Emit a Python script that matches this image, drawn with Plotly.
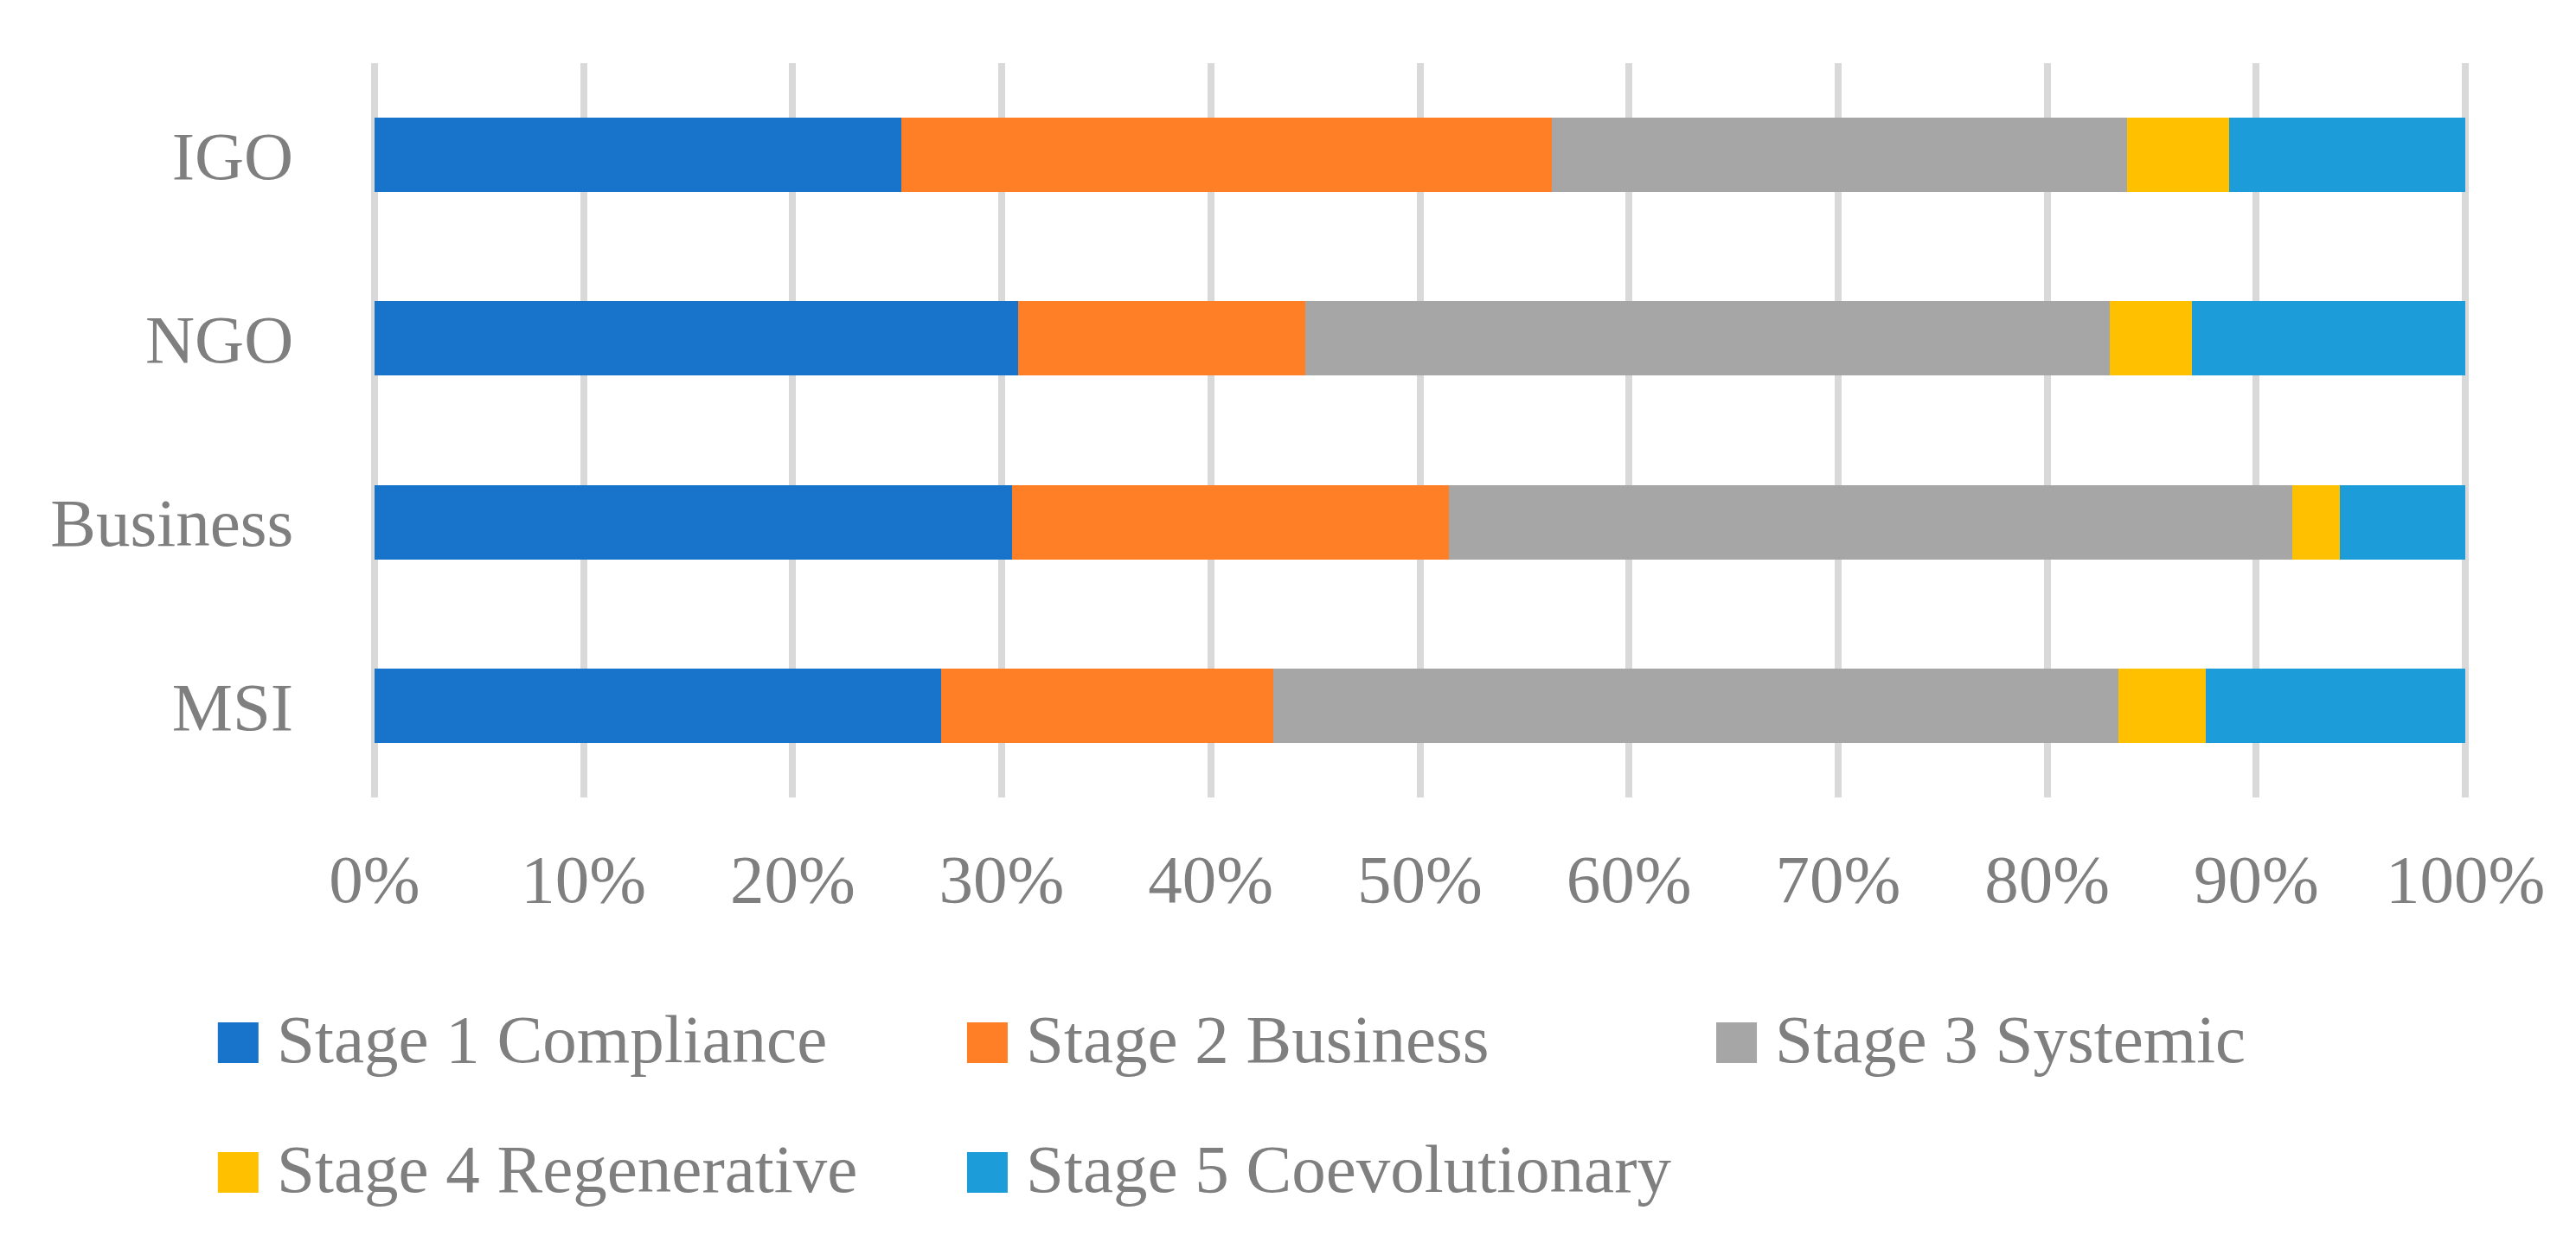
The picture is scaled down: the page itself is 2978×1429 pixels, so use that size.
import plotly.graph_objects as go

# ---- data ----
categories = ["MSI", "Business", "NGO", "IGO"]
series_names = [
    "Stage 1 Compliance",
    "Stage 2 Business",
    "Stage 3 Systemic",
    "Stage 4 Regenerative",
    "Stage 5 Coevolutionary",
]
stage1 = [0.271, 0.305, 0.308, 0.252]
stage2 = [0.159, 0.209, 0.137, 0.311]
stage3 = [0.404, 0.403, 0.385, 0.275]
stage4 = [0.042, 0.023, 0.039, 0.049]
stage5 = [0.124, 0.060, 0.131, 0.113]
series_values = [stage1, stage2, stage3, stage4, stage5]
x_ticks = [i / 10 for i in range(11)]
x_tick_labels = [f"{i * 10}%" for i in range(11)]

# ---- style ----
colors = ["#1874CB", "#FF7F27", "#A6A6A6", "#FFC000", "#1C9CD8"]
FONT = "Liberation Serif"
TXT = "#7F7F7F"
FS = 79
W, H = 2978, 1429
X0_PX, X100_PX = 425, 2842          # pixel positions of 0% and 100%
EPS = 0.002                           # tiny range pad so edge gridlines draw
span_px = (X100_PX - X0_PX) * (1 + 2 * EPS)
ML = X0_PX - (X100_PX - X0_PX) * EPS
MR = W - (ML + span_px)
MT, MB = 65, 515
PW, PH = W - ML - MR, H - MT - MB

fig = go.Figure()
for name, vals, col in zip(series_names, series_values, colors):
    fig.add_trace(go.Bar(
        y=categories, x=vals, name=name, orientation="h",
        marker=dict(color=col, line=dict(width=0)),
        showlegend=False,
    ))

# ---- manual legend (large square swatches like the original) ----
def px_x(p):
    return (p - ML) / PW

def px_y(p):
    return (H - MB - p) / PH

LEG_X0, COL_W, ROWS_Y, SW, GAP, NCOL = 244, 866, [1197.5, 1347.5], 47, 21, 3
shapes, annots = [], []
for i, (name, col) in enumerate(zip(series_names, colors)):
    r, c = divmod(i, NCOL)
    x0 = LEG_X0 + c * COL_W
    yc = ROWS_Y[r]
    shapes.append(dict(
        type="rect", xref="paper", yref="paper",
        xsizemode="pixel", ysizemode="pixel",
        xanchor=px_x(x0), yanchor=px_y(yc),
        x0=0, x1=SW, y0=-SW / 2, y1=SW / 2,
        fillcolor=col, line=dict(width=0), layer="above",
    ))
    annots.append(dict(
        text=name, xref="paper", yref="paper",
        x=px_x(x0 + SW + GAP - 2), y=px_y(yc - 4),
        xanchor="left", yanchor="middle", showarrow=False,
        font=dict(family=FONT, size=FS, color=TXT),
    ))

fig.update_layout(
    width=W, height=H, autosize=False,
    margin=dict(l=ML, r=MR, t=MT, b=MB, pad=0),
    paper_bgcolor="white", plot_bgcolor="white",
    barmode="stack", bargap=0.595,
    font=dict(family=FONT, size=FS, color=TXT),
    xaxis=dict(
        range=[-EPS, 1 + EPS], tickvals=x_ticks, ticktext=x_tick_labels,
        showgrid=True, gridcolor="#D9D9D9", gridwidth=8,
        zeroline=False, showline=False,
        ticks="outside", ticklen=25, tickcolor="rgba(0,0,0,0)",
        tickfont=dict(family=FONT, size=FS, color=TXT),
        fixedrange=True,
    ),
    yaxis=dict(
        showgrid=False, zeroline=False, showline=False,
        ticks="outside", ticklen=72, tickcolor="rgba(0,0,0,0)",
        tickfont=dict(family=FONT, size=FS, color=TXT),
        fixedrange=True,
    ),
    shapes=shapes, annotations=annots,
    showlegend=False,
)

fig.write_html("out.html")
